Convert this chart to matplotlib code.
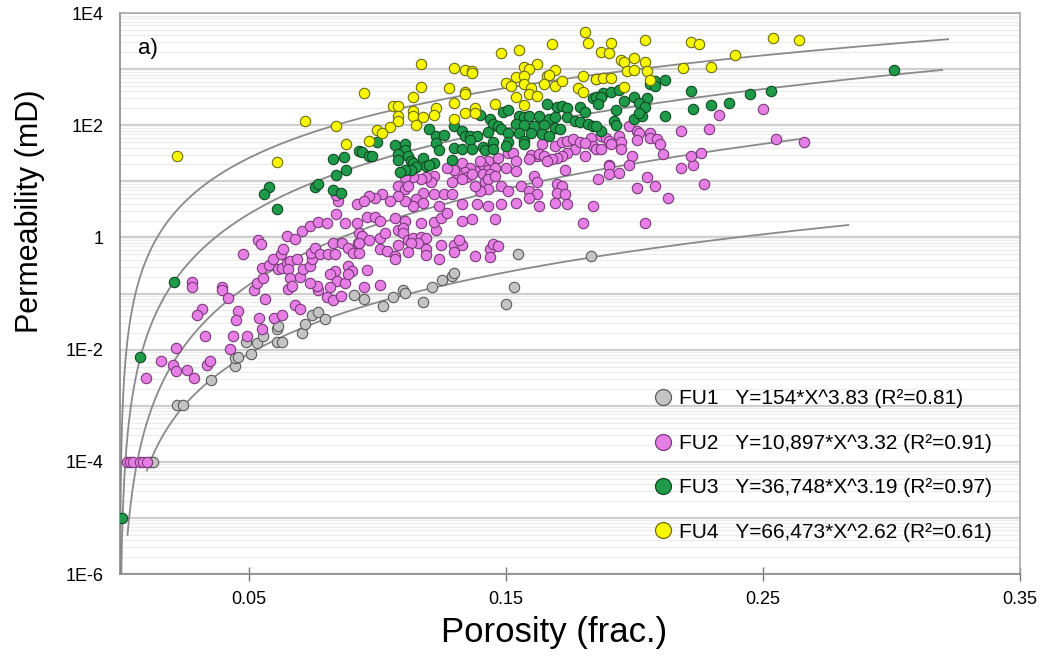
import numpy as np
import matplotlib
matplotlib.use("Agg")
import matplotlib.pyplot as plt
from matplotlib.lines import Line2D
from matplotlib.ticker import FixedLocator, NullFormatter

plt.rcParams['font.family'] = ['Liberation Sans', 'DejaVu Sans']

# (porosity frac., log10 permeability mD)
fu1_pts = [
    (0.0117, -4.0), (0.0130, -4.0), (0.0220, -2.98), (0.0246, -2.98), (0.0353, -2.55),
    (0.0447, -2.29), (0.0447, -2.15), (0.0460, -2.13), (0.0508, -2.08), (0.0489, -1.87),
    (0.0532, -1.89), (0.0557, -1.76), (0.0609, -1.87), (0.0629, -1.87), (0.0609, -1.63),
    (0.0613, -1.57), (0.0709, -1.70), (0.0720, -1.55), (0.0748, -1.38), (0.0769, -1.33),
    (0.0797, -1.46), (0.0908, -1.02), (0.0950, -1.09), (0.1022, -1.23), (0.1061, -1.07),
    (0.1102, -0.94), (0.1109, -0.99), (0.1180, -1.15), (0.1212, -0.88), (0.1251, -0.76),
    (0.1290, -0.68), (0.1297, -0.63), (0.1501, -1.18), (0.1532, -0.88), (0.1549, -0.30),
    (0.1832, -0.33),
]

fu2_pts = [
    (0.0026, -4.0), (0.0039, -4.0), (0.0052, -4.0), (0.0078, -4.0), (0.0091, -4.0), (0.0104, -4.0),
    (0.0100, -2.51), (0.0158, -2.20), (0.0207, -2.28), (0.0218, -2.38), (0.0218, -1.97),
    (0.0259, -2.37), (0.0289, -2.51), (0.0338, -2.28), (0.0350, -2.20), (0.0331, -1.75),
    (0.0279, -0.80), (0.0281, -0.89), (0.0396, -0.89), (0.0398, -0.94), (0.0421, -1.08),
    (0.0318, -1.27), (0.0298, -1.38), (0.0460, -1.32), (0.0450, -1.48), (0.0541, -1.43),
    (0.0598, -1.43), (0.0629, -1.39), (0.0551, -1.63), (0.0441, -1.76), (0.0493, -1.75),
    (0.0428, -1.98), (0.0681, -1.21), (0.0700, -1.27), (0.0480, -0.29), (0.0538, -0.05),
    (0.0547, -0.11), (0.0564, -1.09), (0.0519, -0.93), (0.0532, -0.81), (0.0557, -0.72),
    (0.0551, -0.54), (0.0581, -0.50), (0.0596, -0.39), (0.0616, -0.57), (0.0629, -0.54),
    (0.0648, -0.45), (0.0661, -0.42), (0.0687, -0.39), (0.0655, -0.57), (0.0661, -0.72),
    (0.0655, -0.92), (0.0668, -0.87), (0.0700, -0.70), (0.0713, -0.56), (0.0739, -0.51),
    (0.0746, -0.39), (0.0743, -0.27), (0.0758, -0.18), (0.0778, -0.30), (0.0810, -0.30),
    (0.0836, -0.29), (0.0830, -0.10), (0.0862, -0.10), (0.0888, -0.18), (0.0904, -0.27),
    (0.0927, -0.10), (0.0888, -0.51), (0.0901, -0.60), (0.0836, -0.60), (0.0817, -0.66),
    (0.0843, -0.78), (0.0875, -0.81), (0.0888, -0.66), (0.0771, -0.93), (0.0765, -0.87),
    (0.0739, -0.81), (0.0817, -0.89), (0.0806, -1.07), (0.0830, -1.11), (0.0858, -1.05),
    (0.0625, -0.30), (0.0635, -0.20), (0.0648, 0.02), (0.0681, -0.02), (0.0709, 0.11),
    (0.0739, 0.21), (0.0769, 0.27), (0.0806, 0.25), (0.0875, 0.25), (0.0923, 0.25),
    (0.0839, 0.41), (0.0849, 0.65), (0.0923, 0.59), (0.084, 0.75),
    (0.096, 0.37), (0.099, 0.37), (0.101, 0.29), (0.107, 0.35), (0.111, 0.29), (0.117, 0.26),
    (0.123, 0.14), (0.122, 0.27), (0.125, 0.35), (0.127, 0.43), (0.133, 0.29), (0.137, 0.32),
    (0.146, 0.32), (0.180, 0.26), (0.093, 0.08), (0.094, 0.02), (0.097, -0.04), (0.101, -0.01),
    (0.103, 0.08), (0.108, 0.13), (0.110, 0.17), (0.110, 0.08), (0.112, -0.04), (0.114, -0.01),
    (0.117, 0.01), (0.119, -0.01), (0.116, -0.10), (0.113, -0.10), (0.101, -0.21), (0.104, -0.24),
    (0.108, -0.13), (0.112, -0.26), (0.107, -0.33), (0.107, -0.39), (0.119, -0.21), (0.119, -0.32),
    (0.124, -0.39), (0.125, -0.14), (0.130, -0.13), (0.130, -0.26), (0.133, -0.13), (0.132, -0.05),
    (0.138, -0.33), (0.144, -0.20), (0.145, -0.11), (0.147, -0.16), (0.144, -0.35), (0.096, -0.58),
    (0.095, -0.88), (0.101, -0.84), (0.093, -0.27), (0.093, -0.10),
    (0.183, 1.77), (0.184, 1.63), (0.181, 1.45), (0.177, 1.57), (0.174, 1.51), (0.172, 1.45),
    (0.170, 1.42), (0.169, 1.63), (0.172, 1.70), (0.174, 1.72), (0.176, 1.75), (0.179, 1.70),
    (0.181, 1.69), (0.164, 1.67), (0.162, 1.45), (0.160, 1.47), (0.159, 1.39), (0.163, 1.48),
    (0.165, 1.45), (0.168, 1.39), (0.166, 1.36), (0.147, 1.42), (0.151, 1.51), (0.153, 1.51),
    (0.154, 1.36), (0.150, 1.24), (0.154, 1.18), (0.143, 1.36), (0.141, 1.27), (0.143, 1.21),
    (0.146, 1.24), (0.140, 1.36), (0.138, 1.18), (0.141, 1.13), (0.144, 1.13), (0.142, 0.98),
    (0.143, 1.04), (0.146, 1.09), (0.143, 0.86), (0.140, 0.83), (0.138, 0.92), (0.133, 1.33),
    (0.136, 1.24), (0.134, 1.16), (0.131, 1.13), (0.135, 1.07), (0.137, 1.13), (0.133, 1.04),
    (0.130, 1.21), (0.127, 1.24), (0.129, 0.98), (0.148, 0.92), (0.151, 0.83), (0.156, 0.92),
    (0.161, 1.09), (0.162, 0.98), (0.159, 0.83), (0.162, 0.77), (0.170, 0.95), (0.172, 0.92),
    (0.170, 0.80), (0.173, 0.77), (0.174, 0.60), (0.173, 1.21), (0.122, 1.09), (0.121, 0.98),
    (0.119, 1.07), (0.117, 1.04), (0.114, 1.07), (0.111, 1.07), (0.108, 0.92), (0.111, 0.86),
    (0.112, 0.92), (0.118, 0.80), (0.115, 0.68), (0.114, 0.56), (0.118, 0.62), (0.122, 0.77),
    (0.126, 0.77), (0.129, 0.78), (0.124, 0.56), (0.111, 0.65), (0.108, 0.74), (0.105, 0.65),
    (0.102, 0.77), (0.099, 0.71), (0.097, 0.74), (0.095, 0.65), (0.133, 0.59), (0.139, 0.59),
    (0.143, 0.56), (0.148, 0.59), (0.154, 0.62), (0.159, 0.71), (0.163, 0.56), (0.169, 0.62),
    (0.184, 0.56),
    (0.250, 2.29), (0.233, 2.19), (0.229, 1.94), (0.218, 1.89), (0.198, 1.98), (0.201, 1.90),
    (0.202, 1.86), (0.206, 1.86), (0.206, 1.78), (0.209, 1.76), (0.210, 1.66), (0.211, 1.48),
    (0.187, 1.81), (0.189, 1.78), (0.190, 1.72), (0.194, 1.81), (0.195, 1.70), (0.195, 1.58),
    (0.191, 1.66), (0.201, 1.74), (0.185, 1.58), (0.187, 1.57), (0.199, 1.45), (0.198, 1.30),
    (0.190, 1.30), (0.190, 1.27), (0.186, 1.05), (0.190, 1.13), (0.194, 1.14), (0.205, 1.08),
    (0.208, 0.92), (0.201, 0.88), (0.213, 0.70), (0.218, 1.24), (0.223, 1.29), (0.222, 1.46),
    (0.226, 1.50), (0.227, 0.95), (0.255, 1.76), (0.266, 1.71), (0.204, 0.25),
]

fu3_pts = [
    (0.0007, -5.0), (0.0078, -2.14), (0.021, -0.79), (0.061, 0.50),
    (0.083, 1.39), (0.087, 1.43), (0.084, 1.11), (0.088, 1.20), (0.058, 0.90), (0.056, 0.78),
    (0.076, 0.90), (0.077, 0.95), (0.083, 0.84), (0.086, 0.80), (0.093, 1.54),
    (0.166, 2.37), (0.170, 2.33), (0.172, 2.35), (0.174, 2.30), (0.179, 2.32), (0.181, 2.23),
    (0.184, 2.48), (0.186, 2.49), (0.149, 2.24), (0.151, 2.27), (0.155, 2.16), (0.157, 2.14),
    (0.159, 2.16), (0.163, 2.16), (0.167, 2.12), (0.169, 2.14), (0.174, 2.15), (0.177, 2.08),
    (0.179, 2.05), (0.182, 2.02), (0.184, 1.99), (0.144, 2.11), (0.145, 2.02), (0.147, 1.99),
    (0.148, 1.93), (0.140, 2.19), (0.154, 2.02), (0.157, 2.00), (0.161, 1.98), (0.165, 2.00),
    (0.169, 1.95), (0.171, 1.94), (0.151, 1.86), (0.155, 1.86), (0.160, 1.87), (0.164, 1.84),
    (0.167, 1.81), (0.151, 1.70), (0.150, 1.63), (0.157, 1.72), (0.157, 1.67), (0.120, 1.94),
    (0.130, 1.98), (0.133, 1.89), (0.134, 1.81), (0.136, 1.81), (0.139, 1.80), (0.136, 1.74),
    (0.123, 1.81), (0.126, 1.82), (0.123, 1.69), (0.143, 1.88), (0.145, 1.70), (0.141, 1.62),
    (0.142, 1.56), (0.145, 1.57), (0.130, 1.59), (0.133, 1.58), (0.137, 1.57), (0.124, 1.55),
    (0.094, 1.52), (0.097, 1.45), (0.098, 1.46), (0.100, 1.71), (0.107, 1.64), (0.111, 1.66),
    (0.111, 1.55), (0.108, 1.48), (0.108, 1.38), (0.112, 1.45), (0.118, 1.41), (0.119, 1.27),
    (0.122, 1.32), (0.120, 1.29), (0.113, 1.36), (0.114, 1.32), (0.115, 1.26), (0.113, 1.21),
    (0.111, 1.21), (0.109, 1.17), (0.129, 1.38),
    (0.208, 2.79), (0.206, 2.73), (0.208, 2.70), (0.212, 2.81), (0.222, 2.61), (0.245, 2.55),
    (0.253, 2.61), (0.185, 2.50), (0.188, 2.58), (0.191, 2.59), (0.194, 2.63), (0.187, 2.51),
    (0.186, 2.38), (0.196, 2.43), (0.200, 2.51), (0.205, 2.49), (0.202, 2.40), (0.204, 2.33),
    (0.193, 2.27), (0.200, 2.12), (0.203, 2.17), (0.202, 2.21), (0.212, 2.16), (0.223, 2.29),
    (0.230, 2.36), (0.237, 2.40), (0.192, 2.08), (0.193, 2.00), (0.187, 1.90), (0.185, 1.99),
    (0.301, 2.98),
]

fu4_pts = [
    (0.022, 1.46), (0.072, 2.07), (0.084, 1.98), (0.088, 1.67), (0.061, 1.35),
    (0.181, 3.67), (0.182, 3.46), (0.168, 3.44), (0.155, 3.35), (0.148, 3.28), (0.117, 3.09),
    (0.130, 3.02), (0.134, 2.99), (0.137, 2.96), (0.137, 2.93), (0.162, 3.10), (0.157, 3.04),
    (0.159, 3.00), (0.169, 2.99), (0.154, 2.86), (0.157, 2.88), (0.166, 2.88), (0.167, 2.89),
    (0.165, 2.74), (0.169, 2.70), (0.172, 2.79), (0.180, 2.87), (0.185, 2.82), (0.150, 2.76),
    (0.152, 2.70), (0.157, 2.73), (0.160, 2.67), (0.178, 2.66), (0.180, 2.60), (0.159, 2.55),
    (0.162, 2.52), (0.154, 2.50), (0.157, 2.36), (0.146, 2.38), (0.095, 2.57), (0.114, 2.51),
    (0.117, 2.69), (0.128, 2.67), (0.134, 2.60), (0.134, 2.55), (0.130, 2.39), (0.106, 2.34),
    (0.108, 2.34), (0.108, 2.17), (0.108, 2.08), (0.114, 2.25), (0.114, 2.17), (0.123, 2.31),
    (0.122, 2.18), (0.118, 2.14), (0.115, 2.00), (0.130, 2.12), (0.134, 2.21), (0.138, 2.30),
    (0.138, 2.21), (0.105, 1.96), (0.100, 1.92), (0.102, 1.86), (0.097, 1.72),
    (0.191, 3.46), (0.204, 3.52), (0.222, 3.48), (0.225, 3.45), (0.254, 3.55), (0.264, 3.52),
    (0.187, 3.31), (0.190, 3.29), (0.195, 3.16), (0.196, 3.13), (0.200, 3.19), (0.204, 3.13),
    (0.197, 2.97), (0.200, 2.98), (0.205, 2.97), (0.239, 3.25), (0.219, 3.02), (0.230, 3.03),
    (0.185, 2.82), (0.188, 2.85), (0.191, 2.84), (0.196, 2.69), (0.206, 2.81),
]

# trend lines as drawn: k = a * phi^b, over the plotted porosity span
trend_a = [78, 6820, 36748, 66473]
trend_b = [3.05, 3.60, 3.19, 2.62]
trend_x0 = [0.0104, 0.0029, 0.0003, 0.00003]
trend_x1 = [0.2832, 0.2651, 0.3197, 0.3220]

names = ['FU1', 'FU2', 'FU3', 'FU4']
equations = ['Y=154*X^3.83 (R²=0.81)', 'Y=10,897*X^3.32 (R²=0.91)',
             'Y=36,748*X^3.19 (R²=0.97)', 'Y=66,473*X^2.62 (R²=0.61)']
face = ['#c4c4c4', '#e67ee6', '#1f9a4a', '#f7f700']
edge = ['#5a5a5a', '#7a3a7a', '#0e4a22', '#6e6e10']

fig = plt.figure(figsize=(10.43, 6.62), dpi=100)
ax = fig.add_axes([0.1151, 0.1329, 0.8629, 0.8474])
ax.set_yscale('log')
ax.set_xlim(0, 0.35)
ax.set_ylim(1e-6, 1e4)

# grid: decades and subdivisions
ax.set_yticks([10.0 ** e for e in range(-6, 5)])
ax.set_yticklabels(['1E-6', '', '1E-4', '', '1E-2', '', '1', '', '1E2', '', '1E4'])
ax.yaxis.set_minor_locator(FixedLocator([m * 10.0 ** e for e in range(-6, 4) for m in range(2, 10)]))
ax.yaxis.set_minor_formatter(NullFormatter())
ax.grid(True, which='major', axis='y', color='#cfcfcf', lw=1.6, zorder=0)
ax.grid(True, which='minor', axis='y', color='#ececec', lw=0.9, zorder=0)
ax.axhline(1, color='#b8b8b8', lw=1.6, zorder=0.5)
ax.tick_params(axis='y', which='both', length=0, labelsize=13, pad=12)

ax.set_xticks([0.05, 0.15, 0.25, 0.35])
ax.set_xticklabels(['0.05', '0.15', '0.25', '0.35'])
ax.tick_params(axis='x', direction='inout', length=10, width=1, color='#777777',
               labelsize=13, pad=7)

for s in ax.spines.values():
    s.set_color('#a8a8a8')
    s.set_linewidth(1.2)
ax.spines['left'].set_color('#888888')
ax.spines['bottom'].set_color('#888888')

for a, b, x0, x1 in zip(trend_a, trend_b, trend_x0, trend_x1):
    xs = np.geomspace(x0, x1, 400)
    ax.plot(xs, a * xs ** b, color='#8a8a8a', lw=1.3, zorder=2)

order = [1, 0, 2, 3]
groups = [fu1_pts, fu2_pts, fu3_pts, fu4_pts]
for i in order:
    p = np.array(groups[i])
    ax.scatter(p[:, 0], 10.0 ** p[:, 1], s=56, c=face[i], edgecolors=edge[i],
               linewidths=0.8, zorder=3 + i, clip_on=True)

handles = [Line2D([], [], ls='none', marker='o', ms=11.5, mfc=face[i], mec=edge[i], mew=0.9)
           for i in range(4)]
labels = [f'{n}   {e}' for n, e in zip(names, equations)]
ax.legend(handles, labels, loc='upper left', bbox_to_anchor=(0.592, 0.329), frameon=False,
          fontsize=15, handlelength=1.0, handletextpad=0.25, labelspacing=1.22,
          borderpad=0, borderaxespad=0)

ax.text(0.02, 0.9376, 'a)', transform=ax.transAxes, fontsize=16, va='center', ha='left')

ax.set_xlabel('Porosity (frac.)', fontsize=25)
ax.set_ylabel('Permeability (mD)', fontsize=22)
ax.xaxis.set_label_coords((554 - 120) / 900, -0.074)
ax.yaxis.set_label_coords(-0.0833, 0.647)

fig.savefig('out.png', dpi=100)
